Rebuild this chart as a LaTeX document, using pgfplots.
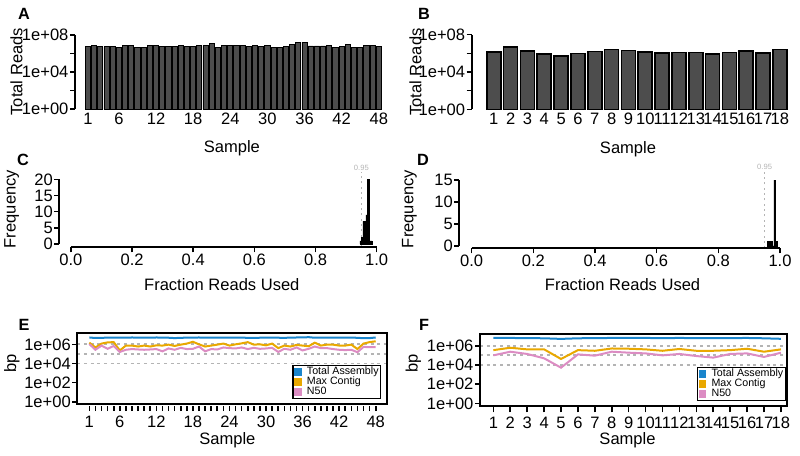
\documentclass[border=0pt]{standalone}
\usepackage{fontspec}
\setmainfont{Liberation Sans}
\usepackage{pgfplots}
\pgfplotsset{compat=1.18}
\definecolor{bargray}{HTML}{4D4D4D}
\definecolor{tblue}{HTML}{1A85CC}
\definecolor{torange}{HTML}{E9A800}
\definecolor{tpink}{HTML}{DC8CC3}
\definecolor{dgray}{HTML}{B4B4B4}
\newcommand{\tfont}{\fontsize{12.4}{14}\selectfont}
\pgfplotsset{
  rstyle/.style={
    scale only axis, clip=false,
    axis line style={draw=none},
    xtick pos=left, ytick pos=left,
    tick align=outside,
    major tick length=3.75pt,
    minor tick num=0,
    tick style={black, line width=1.2pt},
    xticklabel style={font=\tfont},
    yticklabel style={font=\tfont, inner xsep=1pt},
    label style={font=\tfont},
    /pgf/number format/assume math mode=true,
    anchor=south west,
    xlabel style={anchor=center},
    ylabel style={anchor=center},
  },
  legstyle/.style={
    legend style={font=\fontsize{8}{8}\selectfont, draw=black, line width=0.9pt,
      inner sep=1pt, row sep=-0.6pt, nodes={inner sep=0.4pt}, legend cell align=left,
      /tikz/every odd column/.append style={column sep=3.5pt}},
    legend image code/.code={\fill (1pt,-2pt) rectangle (5pt,2pt);},
  },
  hline/.style={forget plot, dgray, line width=1.4pt, dash pattern=on 2.2pt off 2.8pt},
}
\begin{document}
\begin{tikzpicture}
\useasboundingbox (0,0) rectangle (600pt,-341.25pt);
\tikzset{letter/.style={font=\fontsize{12.2}{14}\selectfont\bfseries, anchor=center}}
% ---------------- A
\begin{axis}[rstyle, at={(56.25pt,-81.75pt)}, width=232.5pt, height=55.5pt,
  ymode=log, ymin=1, ymax=1e8, xmin=-1.1, xmax=49,
  ybar, bar shift=0pt, bar width=0.833,
  ytick={1,100,1e4,1e6,1e8}, yticklabels={1e+00,,1e+04,,1e+08},
  xtick={1,6,12,18,24,30,36,42,48}, xticklabels={1,6,12,18,24,30,36,42,48},
  major x tick style={draw=none}, xticklabel style={yshift=4.5pt},
  xlabel={Sample}, ylabel={Total Reads},
  xlabel style={at={(axis description cs:0.506,-0.527)}},
  ylabel style={at={(axis description cs:-0.189,0.504)}},
]
\addplot[fill=bargray, draw=black, line width=0.7pt] coordinates {
(1,6.2e6)(2,7.2e6)(3,6.2e6)(4,5.1e6)(5,5.6e6)(6,4.8e6)(7,6.6e6)(8,7.2e6)(9,4.8e6)(10,4.8e6)
(11,6.6e6)(12,7.2e6)(13,5.6e6)(14,5.6e6)(15,6.2e6)(16,6.6e6)(17,5.1e6)(18,5.6e6)(19,7.8e6)(20,7.2e6)
(21,1.1e7)(22,4.1e6)(23,7.8e6)(24,7.8e6)(25,7.8e6)(26,7.8e6)(27,5.6e6)(28,7.8e6)(29,5.6e6)(30,6.6e6)
(31,4.7e6)(32,4.7e6)(33,5.1e6)(34,1.0e7)(35,1.4e7)(36,1.7e7)(37,6.5e6)(38,6.5e6)(39,6.5e6)(40,7.2e6)
(41,4.8e6)(42,5.1e6)(43,8.5e6)(44,4.8e6)(45,4.5e6)(46,6.6e6)(47,6.6e6)(48,6.2e6)};
\draw[line width=1.5pt] (rel axis cs:0,0) -- (rel axis cs:0,1);
\end{axis}
\node[letter] at (18pt,-10.5pt) {A};
% ---------------- B
\begin{axis}[rstyle, at={(353.8pt,-82pt)}, width=238.7pt, height=56pt,
  ymode=log, ymin=1, ymax=1e8, xmin=-0.31, xmax=18.6,
  ybar, bar shift=0pt, bar width=0.833,
  ytick={1,100,1e4,1e6,1e8}, yticklabels={1e+00,,1e+04,,1e+08},
  xtick={1,...,18}, xticklabels={1,2,3,4,5,6,7,8,9,10,11,12,13,14,15,16,17,18},
  major x tick style={draw=none}, xticklabel style={yshift=4.5pt},
  xlabel={Sample}, ylabel={Total Reads},
  xlabel style={at={(axis description cs:0.491,-0.532)}},
  ylabel style={at={(axis description cs:-0.177,0.5)}},
]
\addplot[fill=bargray, draw=black, line width=1.2pt] coordinates {
(1,1.45e6)(2,5.0e6)(3,1.8e6)(4,7.9e5)(5,5.0e5)(6,1.0e6)(7,1.6e6)(8,2.5e6)(9,2.0e6)
(10,1.4e6)(11,1.1e6)(12,1.26e6)(13,1.26e6)(14,8.9e5)(15,1.26e6)(16,1.8e6)(17,1.1e6)(18,2.5e6)};
\draw[line width=1.5pt] (rel axis cs:0,0) -- (rel axis cs:0,1);
\end{axis}
\node[letter] at (318pt,-10.5pt) {B};
% ---------------- C
\begin{axis}[rstyle, at={(44.5pt,-185.5pt)}, width=238pt, height=51pt,
  xmin=-0.038, xmax=1, ymin=-1.02, ymax=20,
  xtick={0,0.2,0.4,0.6,0.8,1}, xticklabels={0.0,0.2,0.4,0.6,0.8,1.0},
  ytick={0,5,10,15,20}, yticklabels={0,5,10,15,20},
  xticklabel style={yshift=2.5pt},
  xlabel={Fraction Reads Used}, ylabel={Frequency},
  xlabel style={at={(axis description cs:0.512,-0.554)}},
  ylabel style={at={(axis description cs:-0.15,0.563)}},
]
\addplot[dgray, line width=1.2pt, dash pattern=on 1.5pt off 2.5pt] coordinates {(0.95,-1.02)(0.95,22.2)};
\addplot[ybar interval, fill=black, draw=black, line width=0.3pt] coordinates {
(0.945,1)(0.95,2)(0.955,7)(0.96,7)(0.965,9)(0.97,20)(0.975,1)(0.98,1)(0.985,0)};
\node[text=dgray, font=\fontsize{5.7}{6}\selectfont] at (axis cs:0.95,23.4) {0.95};
\draw[line width=1.5pt] (axis cs:0,-1.02) -- (axis cs:1,-1.02);
\draw[line width=1.5pt] (axis cs:-0.038,0) -- (axis cs:-0.038,20);
\end{axis}
\node[letter] at (17.25pt,-120pt) {C};
% ---------------- D
\begin{axis}[rstyle, at={(344.5pt,-186.2pt)}, width=240.5pt, height=51.2pt,
  xmin=-0.04, xmax=1, ymin=-0.52, ymax=15,
  xtick={0,0.2,0.4,0.6,0.8,1}, xticklabels={0.0,0.2,0.4,0.6,0.8,1.0},
  ytick={0,5,10,15}, yticklabels={0,5,10,15},
  xticklabel style={yshift=2.5pt},
  xlabel={Fraction Reads Used}, ylabel={Frequency},
  xlabel style={at={(axis description cs:0.509,-0.537)}},
  ylabel style={at={(axis description cs:-0.156,0.575)}},
]
\addplot[dgray, line width=1.2pt, dash pattern=on 1.5pt off 2.5pt] coordinates {(0.95,-0.52)(0.95,16.9)};
\addplot[ybar interval, fill=black, draw=black, line width=0.3pt] coordinates {
(0.96,1)(0.965,1)(0.97,1)(0.975,0)(0.98,15)(0.985,1)(0.99,0)};
\node[text=dgray, font=\fontsize{5.7}{6}\selectfont] at (axis cs:0.95,18.0) {0.95};
\draw[line width=1.5pt] (axis cs:0,-0.52) -- (axis cs:1,-0.52);
\draw[line width=1.5pt] (axis cs:-0.04,0) -- (axis cs:-0.04,15);
\end{axis}
\node[letter] at (317.25pt,-120pt) {D};
% ---------------- E
\begin{axis}[rstyle, legstyle, at={(58pt,-304.5pt)}, width=232pt, height=54.5pt,
  ymode=log, ymin=0.355, ymax=1.41e7, xmin=-0.97, xmax=49.8,
  ytick={1,100,1e4,1e6}, yticklabels={1e+00,1e+02,1e+04,1e+06},
  xtick={1,...,48},
  xticklabels={1,,,,,6,,,,,,12,,,,,,18,,,,,,24,,,,,,30,,,,,,36,,,,,,42,,,,,,48},
  xlabel={Sample}, ylabel={bp},
  xlabel style={at={(axis description cs:0.485,-0.468)}},
  ylabel style={at={(axis description cs:-0.212,0.59)}},
  legend style={at={(axis description cs:0.982,0.096)}, anchor=south east},
]
\addplot[hline] coordinates {(-0.97,1e4)(49.8,1e4)};
\addplot[hline] coordinates {(-0.97,1e5)(49.8,1e5)};
\addplot[hline] coordinates {(-0.97,1e6)(49.8,1e6)};
\addplot[tblue, line width=1.5pt] coordinates {
(1,5.2e6)(2,4.6e6)(3,4.8e6)(4,5.0e6)(5,5.0e6)(6,5.1e6)(7,5.0e6)(8,5.2e6)(9,5.1e6)(10,5.0e6)
(11,5.0e6)(12,5.2e6)(13,5.1e6)(14,4.9e6)(15,4.5e6)(16,4.8e6)(17,5.0e6)(18,5.1e6)(19,5.2e6)(20,5.0e6)
(21,5.0e6)(22,5.1e6)(23,5.0e6)(24,5.1e6)(25,5.0e6)(26,5.0e6)(27,4.8e6)(28,4.7e6)(29,4.9e6)(30,5.0e6)
(31,5.1e6)(32,4.9e6)(33,4.8e6)(34,5.0e6)(35,5.2e6)(36,5.3e6)(37,5.6e6)(38,4.9e6)(39,5.0e6)(40,5.1e6)
(41,5.0e6)(42,4.9e6)(43,5.0e6)(44,5.1e6)(45,4.8e6)(46,4.4e6)(47,4.5e6)(48,5.2e6)};
\addlegendentry{Total Assembly}
\addplot[torange, line width=1.5pt] coordinates {
(1,1.5e6)(2,4.7e5)(3,1.2e6)(4,1.6e6)(5,1.7e6)(6,2.3e5)(7,7.4e5)(8,7.4e5)(9,5.9e5)(10,7.4e5)
(11,5.9e5)(12,7.9e5)(13,7.4e5)(14,9.3e5)(15,6.8e5)(16,9.3e5)(17,1.2e6)(18,1.85e6)(19,1.0e6)(20,5.9e5)
(21,7.4e5)(22,9.3e5)(23,1.2e6)(24,7.4e5)(25,1.0e6)(26,1.26e6)(27,1.7e6)(28,9.3e5)(29,1.0e6)(30,7.9e5)
(31,1.2e6)(32,4.0e5)(33,7.4e5)(34,5.9e5)(35,8.6e5)(36,7.4e5)(37,6.3e5)(38,1.5e6)(39,7.4e5)(40,9.3e5)
(41,9.3e5)(42,7.4e5)(43,7.4e5)(44,9.3e5)(45,3.2e5)(46,1.2e6)(47,1.7e6)(48,2.1e6)};
\addlegendentry{Max Contig}
\addplot[tpink, line width=1.5pt] coordinates {
(1,1.07e6)(2,2.7e5)(3,7.4e5)(4,3.4e5)(5,6.8e5)(6,1.6e5)(7,2.7e5)(8,3.2e5)(9,2.9e5)(10,2.7e5)
(11,2.9e5)(12,3.2e5)(13,1.85e5)(14,3.7e5)(15,2.7e5)(16,4.3e5)(17,3.2e5)(18,3.4e5)(19,5.9e5)(20,1.85e5)
(21,3.2e5)(22,2.9e5)(23,4.7e5)(24,4.0e5)(25,3.7e5)(26,4.7e5)(27,3.2e5)(28,4.3e5)(29,3.4e5)(30,3.7e5)
(31,4.3e5)(32,1.6e5)(33,3.4e5)(34,2.7e5)(35,4.7e5)(36,2.3e5)(37,3.4e5)(38,5.9e5)(39,4.0e5)(40,4.0e5)
(41,3.2e5)(42,2.7e5)(43,2.5e5)(44,2.7e5)(45,1.5e5)(46,5.4e5)(47,5.0e5)(48,5.0e5)};
\addlegendentry{N50}
\draw[line width=1.5pt] (rel axis cs:0,0.0275) rectangle (rel axis cs:1,1);
\end{axis}
\node[letter] at (18pt,-243.75pt) {E};
% ---------------- F
\begin{axis}[rstyle, legstyle, at={(360pt,-305.5pt)}, width=230pt, height=54.75pt,
  ymode=log, ymin=0.38, ymax=1.55e7, xmin=0.21, xmax=18.34,
  ytick={1,100,1e4,1e6}, yticklabels={1e+00,1e+02,1e+04,1e+06},
  xtick={1,...,18}, xticklabels={1,2,3,4,5,6,7,8,9,10,11,12,13,14,15,16,17,18},
  xlabel={Sample}, ylabel={bp},
  xlabel style={at={(axis description cs:0.481,-0.448)}},
  ylabel style={at={(axis description cs:-0.217,0.6)}},
  legend style={at={(axis description cs:0.997,0.086)}, anchor=south east},
]
\addplot[hline] coordinates {(0.21,1e4)(18.34,1e4)};
\addplot[hline] coordinates {(0.21,1e5)(18.34,1e5)};
\addplot[hline] coordinates {(0.21,1e6)(18.34,1e6)};
\addplot[tblue, line width=1.5pt] coordinates {
(1,6.7e6)(2,6.5e6)(3,6.3e6)(4,6.0e6)(5,5.2e6)(6,6.0e6)(7,6.3e6)(8,6.5e6)(9,6.5e6)
(10,6.5e6)(11,6.3e6)(12,6.5e6)(13,6.3e6)(14,6.3e6)(15,6.3e6)(16,6.5e6)(17,6.0e6)(18,5.3e6)};
\addlegendentry{Total Assembly}
\addplot[torange, line width=1.5pt] coordinates {
(1,3.5e5)(2,6.2e5)(3,4.2e5)(4,4.2e5)(5,4.2e4)(6,3.5e5)(7,3.0e5)(8,5.2e5)(9,4.9e5)
(10,4.2e5)(11,3.0e5)(12,4.6e5)(13,3.0e5)(14,3.0e5)(15,3.5e5)(16,4.9e5)(17,2.4e5)(18,4.2e5)};
\addlegendentry{Max Contig}
\addplot[tpink, line width=1.5pt] coordinates {
(1,1.0e5)(2,2.4e5)(3,1.4e5)(4,4.9e4)(5,5.2e3)(6,1.26e5)(7,9.3e4)(8,2.4e5)(9,1.9e5)
(10,1.6e5)(11,1.0e5)(12,1.4e5)(13,8.5e4)(14,5.8e4)(15,1.4e5)(16,1.6e5)(17,6.8e4)(18,1.9e5)};
\addlegendentry{N50}
\draw[line width=1.5pt] (rel axis cs:0,0.0178) rectangle (rel axis cs:1,1);
\end{axis}
\node[letter] at (318pt,-243.75pt) {F};
\end{tikzpicture}
\end{document}
